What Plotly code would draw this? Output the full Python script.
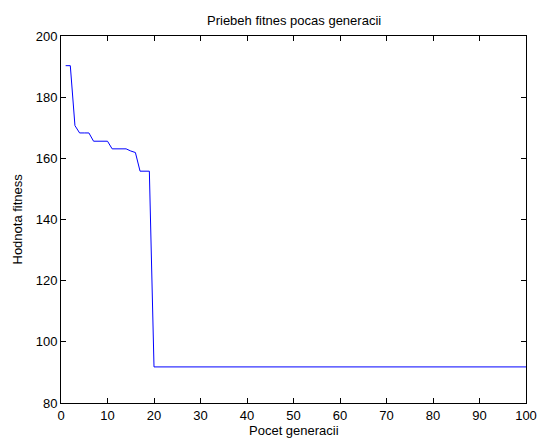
import plotly.graph_objects as go

generations = list(range(1, 101))
fitness_head = [190.3, 190.3, 170.7, 168.3, 168.3, 168.3, 165.6, 165.6, 165.6, 165.6,
                163.1, 163.1, 163.1, 163.1, 162.4, 161.9, 155.8, 155.8, 155.8]
fitness_tail_value = 91.8
fitness = fitness_head + [fitness_tail_value] * (100 - len(fitness_head))

x_ticks = [0, 10, 20, 30, 40, 50, 60, 70, 80, 90, 100]
y_ticks = [80, 100, 120, 140, 160, 180, 200]

title_text = "Priebeh fitnes pocas generacii"
x_title = "Pocet generacii"
y_title = "Hodnota fitness"

FONT = "Liberation Sans, Arial, sans-serif"
FS = 13

fig = go.Figure()
fig.add_trace(go.Scatter(x=generations, y=fitness, mode="lines",
                         line=dict(color="#0000ff", width=1), showlegend=False,
                         hoverinfo="x+y"))

axis_common = dict(showgrid=False, zeroline=False, showline=True, linecolor="black",
                   linewidth=1, mirror="ticks", ticks="inside", ticklen=5,
                   tickcolor="black", tickwidth=1, automargin=False,
                   tickfont=dict(family=FONT, size=FS, color="black"))

fig.update_xaxes(range=[0, 100], tickvals=x_ticks, ticktext=[str(v) for v in x_ticks],
                 ticklabeloverflow="allow", **axis_common)
fig.update_yaxes(range=[80, 200], tickvals=y_ticks, ticktext=[str(v) for v in y_ticks],
                 **axis_common)

font = dict(family=FONT, size=FS, color="black")
fig.add_annotation(text=title_text, xref="paper", yref="paper", x=0.5, y=1,
                   xanchor="center", yanchor="middle", yshift=16, showarrow=False, font=font)
fig.add_annotation(text=x_title, xref="paper", yref="paper", x=0.5, y=0,
                   xanchor="center", yanchor="middle", yshift=-27, showarrow=False, font=font)
fig.add_annotation(text=y_title, xref="paper", yref="paper", x=0, y=0.5, textangle=-90,
                   xanchor="center", yanchor="middle", xshift=-44, showarrow=False, font=font)

fig.update_layout(
    width=538, height=441,
    margin=dict(l=61, r=12, t=36, b=38, pad=0),
    paper_bgcolor="white", plot_bgcolor="white",
)

fig.write_html("out.html",
               config={"displayModeBar": False},
               post_script="document.body.style.margin='0';document.body.style.overflow='hidden';")
